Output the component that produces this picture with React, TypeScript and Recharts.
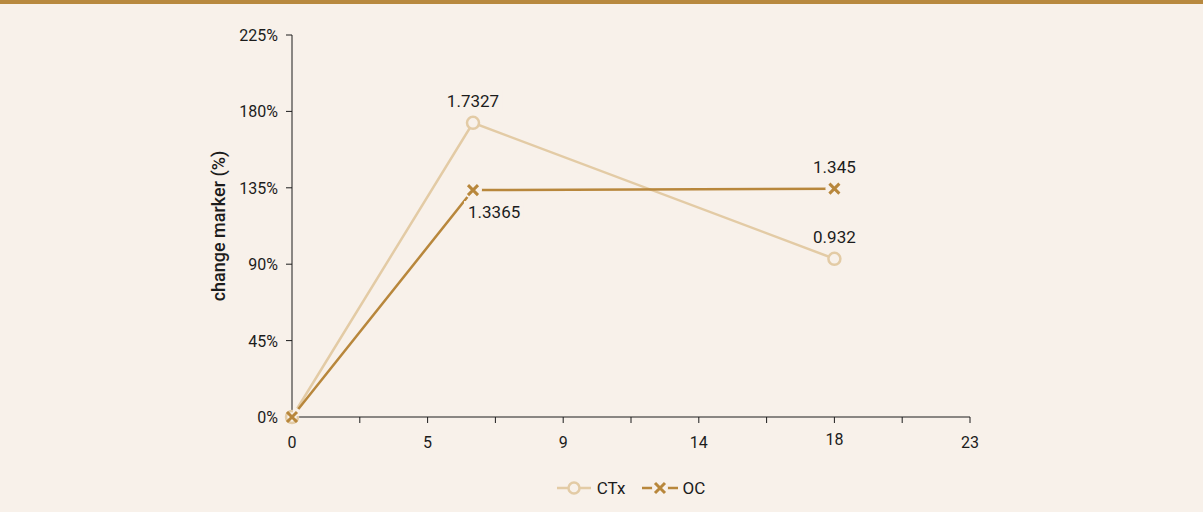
import React from 'react';
import { LineChart, Line, XAxis, YAxis, Legend, LabelList } from 'recharts';

const BG = '#f8f1ea';
const BAR = '#b8893f';
const CTX_COLOR = '#e3cba5';
const OC_COLOR = '#b8873c';
const TEXT = '#1c1c1c';
const FONT = 'Roboto, "Noto Sans", sans-serif';

const ctxX = [0, 6.14, 18.4];
const ctxY = [0, 1.7327, 0.932];
const ocX = [0, 6.14, 18.4];
const ocY = [0, 1.3365, 1.345];

const xTicks = [0, 2.3, 4.6, 6.9, 9.2, 11.5, 13.8, 16.1, 18.4, 20.7, 23];
const xTickLabels = ['0', '', '5', '', '9', '', '14', '', '18', '', '23'];
const yTicks = [0, 0.45, 0.9, 1.35, 1.8, 2.25];

const ctxData = ctxX.map((x, i) => ({ x, y: ctxY[i] }));
const ocData = ocX.map((x, i) => ({ x, y: ocY[i] }));

const CtxDot = (props: any) => {
  const { cx, cy, index } = props;
  return (
    <circle key={`c${index}`} cx={cx} cy={cy} r={6} fill={BG} stroke={CTX_COLOR} strokeWidth={2.5} />
  );
};

const OcDot = (props: any) => {
  const { cx, cy, index } = props;
  const r = 9;
  const s = 5;
  const mask =
    index === 0 ? (
      <path d={`M ${cx + 1} ${cy - 1} L ${cx + 1 + r} ${cy - 1} A ${r} ${r} 0 0 0 ${cx + 1} ${cy - 1 - r} Z`} fill={BG} />
    ) : (
      <circle cx={cx} cy={cy} r={r} fill={BG} />
    );
  return (
    <g key={`o${index}`}>
      {mask}
      <path d={`M ${cx - s} ${cy - s} L ${cx + s} ${cy + s} M ${cx - s} ${cy + s} L ${cx + s} ${cy - s}`} stroke={OC_COLOR} strokeWidth={3} />
    </g>
  );
};

const makeLabel = (placement: (i: number) => 'above' | 'belowRight' | 'none') => (props: any) => {
  const { x, y, value, index } = props;
  const mode = placement(index);
  if (mode === 'none') return null;
  const txt = String(value);
  const w = txt.length * 8.6;
  const h = 14;
  let tx = x;
  let ty = y - 16;
  let anchor: 'middle' | 'start' = 'middle';
  if (mode === 'belowRight') {
    tx = x - 5;
    ty = y + 28;
    anchor = 'start';
  }
  const rx = anchor === 'middle' ? tx - w / 2 - 4 : tx - 4;
  return (
    <g key={`l${index}`}>
      <rect x={rx} y={ty - h - 3} width={w + 8} height={h + 7} fill={BG} />
      <text x={tx} y={ty} textAnchor={anchor} fontSize={17} fontFamily={FONT} fill={TEXT}>
        {txt}
      </text>
    </g>
  );
};

const XTick = (props: any) => {
  const { x, y, index } = props;
  const label = xTickLabels[index] ?? '';
  const dy = label === '18' ? 20 : 23;
  return (
    <text x={x} y={y + dy} textAnchor="middle" fontSize={16} fontFamily={FONT} fill={TEXT}>
      {label}
    </text>
  );
};

const YTick = (props: any) => {
  const { x, y, payload } = props;
  return (
    <text x={x} y={y + 6} textAnchor="end" fontSize={16} fontFamily={FONT} fill={TEXT}>
      {`${Math.round(payload.value * 100)}%`}
    </text>
  );
};

const renderLegend = () => (
  <div
    style={{
      display: 'flex',
      justifyContent: 'center',
      alignItems: 'center',
      fontFamily: FONT,
      fontSize: 17,
      color: TEXT,
      height: 30,
    }}
  >
    <svg width={34} height={16} style={{ marginRight: 6 }}>
      <line x1={0} y1={8} x2={34} y2={8} stroke={CTX_COLOR} strokeWidth={2.5} />
      <circle cx={17} cy={8} r={5.5} fill={BG} stroke={CTX_COLOR} strokeWidth={2.5} />
    </svg>
    <span style={{ marginRight: 16 }}>CTx</span>
    <svg width={36} height={16} style={{ marginRight: 5 }}>
      <line x1={0} y1={8} x2={36} y2={8} stroke={OC_COLOR} strokeWidth={2.5} />
      <circle cx={18} cy={8} r={8} fill={BG} />
      <path d="M 13 3 L 23 13 M 13 13 L 23 3" stroke={OC_COLOR} strokeWidth={3} />
    </svg>
    <span>OC</span>
  </div>
);

export default function App() {
  return (
    <div style={{ position: 'fixed', left: 0, top: 0, width: 1203, height: 512, background: BG, overflow: 'hidden' }}>
      <div style={{ position: 'absolute', left: 0, top: 0, width: 1203, height: 4, background: BAR }} />
      <div style={{ position: 'absolute', left: 0, top: 0 }}>
        <LineChart width={1203} height={512} margin={{ top: 35, right: 233, bottom: 9, left: 192 }}>
          <XAxis
            type="number"
            dataKey="x"
            domain={[0, 23]}
            ticks={xTicks}
            interval={0}
            tick={<XTick />}
            tickSize={6}
            height={56}
            axisLine={{ stroke: TEXT }}
            tickLine={{ stroke: TEXT }}
            allowDuplicatedCategory={false}
          />
          <YAxis
            type="number"
            domain={[0, 2.25]}
            ticks={yTicks}
            interval={0}
            width={100}
            tickSize={6}
            tickMargin={8}
            tick={<YTick />}
            axisLine={{ stroke: TEXT }}
            tickLine={{ stroke: TEXT }}
            label={{
              content: (p: any) => {
                const vb = p.viewBox || {};
                const cx = vb.x + 26;
                const cy = vb.y + vb.height / 2;
                return (
                  <text
                    x={cx}
                    y={cy}
                    transform={`rotate(-90 ${cx} ${cy})`}
                    textAnchor="middle"
                    dominantBaseline="central"
                    fontSize={18}
                    fontWeight={500}
                    fontFamily={FONT}
                    fill={TEXT}
                  >
                    change marker (%)
                  </text>
                );
              },
            }}
          />
          <Legend verticalAlign="bottom" content={renderLegend} wrapperStyle={{ left: 292, width: 678, height: 30 }} />
          <Line
            data={ctxData}
            dataKey="y"
            name="CTx"
            stroke={CTX_COLOR}
            strokeWidth={2.5}
            dot={CtxDot}
            activeDot={false}
            isAnimationActive={false}
          >
            <LabelList dataKey="y" content={makeLabel((i) => (i === 0 ? 'none' : 'above'))} />
          </Line>
          <Line
            data={ocData}
            dataKey="y"
            name="OC"
            stroke={OC_COLOR}
            strokeWidth={2.5}
            dot={OcDot}
            activeDot={false}
            isAnimationActive={false}
          >
            <LabelList dataKey="y" content={makeLabel((i) => (i === 0 ? 'none' : i === 1 ? 'belowRight' : 'above'))} />
          </Line>
        </LineChart>
      </div>
    </div>
  );
}
